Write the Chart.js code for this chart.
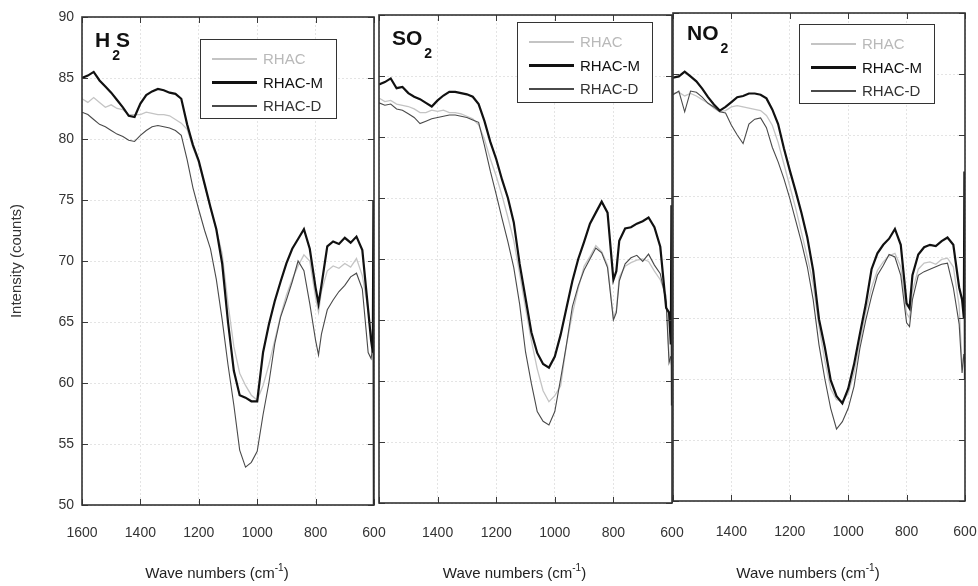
<!DOCTYPE html>
<html>
<head>
<meta charset="utf-8">
<script src="https://cdn.jsdelivr.net/npm/chart.js@4.4.0/dist/chart.umd.min.js"></script>
<style>
  body { margin: 0; background: #fff; width: 978px; height: 586px; overflow: hidden;
         font-family: "Liberation Sans", Arial, sans-serif; position: relative; }
  canvas { position: absolute; top: 0; }
  .gas { position: absolute; font-weight: bold; font-size: 21px; line-height: 1; color: #111; white-space: nowrap; }
  .gas .sub { font-size: 14px; position: relative; top: 13px; margin: 0 0 0 2px; }
  .legend { position: absolute; border: 1.5px solid #333; background: #fff; box-sizing: border-box; }
  .legend .row { position: absolute; left: 0; right: 0; height: 0; }
  .legend .swatch { position: absolute; left: 11px; width: 45px; }
  .legend .txt { position: absolute; left: 62px; top: -9px; font-size: 15px; line-height: 18px; white-space: nowrap; }
</style>
</head>
<body>
<canvas id="c1" width="400" height="586" style="left:0px"></canvas>
<canvas id="c2" width="340" height="586" style="left:360px"></canvas>
<canvas id="c3" width="323" height="586" style="left:655px"></canvas>

<script>
// wavenumbers (cm-1), shared by every trace
const WAVE = [1600,1580,1560,1540,1520,1500,1480,1460,1440,1420,
              1400,1380,1360,1340,1320,1300,1280,1260,1240,1220,
              1200,1180,1160,1140,1120,1100,1080,1060,1040,1020,
              1000,980,960,940,920,900,880,860,840,820,
              800,790,780,760,740,720,700,680,660,640,620,610,604,602,600];

const X_TICKS = [1600, 1400, 1200, 1000, 800, 600];
const Y_TICKS = [50, 55, 60, 65, 70, 75, 80, 85, 90];

const SERIES = ['RHAC', 'RHAC-M', 'RHAC-D'];

// H2S
const H2S_RHAC = [83.3,83.0,83.4,83.0,82.6,82.8,82.5,82.4,82.0,82.0,
                  82.0,82.2,82.1,82.0,82.0,81.9,81.6,81.3,80.8,79.3,
                  78.0,76.2,74.3,72.6,70.6,66.5,63.0,60.8,59.8,59.0,
                  58.6,59.8,61.5,63.5,65.5,67.2,68.5,69.6,70.5,70.0,
                  67.0,65.8,67.5,69.2,69.6,69.4,69.8,69.5,70.2,68.8,66.0,64.0,63.5,63.0,63.0];
const H2S_RHAC_M = [85.0,85.2,85.5,84.8,84.3,83.8,83.2,82.6,81.9,81.8,
                    82.9,83.6,83.9,84.1,84.0,83.8,83.7,83.3,81.2,79.5,
                    78.2,76.3,74.4,72.6,69.8,65.0,61.0,59.0,58.8,58.5,
                    58.5,62.5,64.8,66.7,68.3,69.8,71.0,71.8,72.6,71.0,
                    67.8,66.5,68.0,71.2,71.6,71.4,71.9,71.5,72.0,70.9,66.0,63.5,62.5,75.0,45.0];
const H2S_RHAC_D = [82.2,82.0,81.6,81.2,81.0,80.7,80.4,80.2,79.9,79.8,
                    80.3,80.7,81.0,81.1,81.0,80.9,80.7,80.3,78.3,76.0,
                    74.2,72.5,71.0,68.5,65.2,61.5,58.2,54.5,53.1,53.5,
                    54.4,57.4,60.0,63.2,65.4,66.8,68.3,70.0,69.2,66.5,
                    63.5,62.3,64.0,66.0,66.8,67.5,68.0,68.7,69.0,67.7,62.5,62.0,63.0,63.0,63.0];

// SO2
const SO2_RHAC = [83.2,82.9,83.0,82.7,82.6,82.5,82.3,82.0,82.0,82.2,
                  82.1,82.2,82.0,82.0,81.9,81.7,81.5,81.0,79.8,78.2,
                  76.8,75.2,73.4,71.5,68.8,66.0,63.3,61.0,59.2,58.3,
                  58.8,59.6,63.0,65.5,67.6,69.4,70.2,71.1,70.6,69.5,
                  65.2,65.8,68.5,69.4,69.7,69.9,70.0,69.8,69.0,68.3,67.0,62.0,61.5,62.0,62.0];
const SO2_RHAC_M = [84.3,84.5,84.8,84.0,84.1,83.6,83.3,83.1,82.8,82.5,
                    83.0,83.4,83.7,83.7,83.6,83.5,83.3,82.7,81.3,79.6,
                    78.2,76.5,75.0,73.0,69.6,66.8,64.0,62.3,61.4,61.1,
                    62.0,63.8,66.0,68.2,70.0,71.4,72.9,73.8,74.7,73.8,
                    68.3,69.0,71.5,72.5,72.6,72.9,73.1,73.4,72.6,71.0,66.0,65.6,63.0,74.4,58.0];
const SO2_RHAC_D = [82.8,82.6,82.7,82.3,82.2,81.9,81.6,81.1,81.3,81.5,
                    81.6,81.7,81.8,81.8,81.7,81.6,81.4,81.2,79.3,77.2,
                    75.3,73.3,71.4,69.3,66.3,62.4,59.8,57.5,56.7,56.4,
                    57.5,60.2,63.0,66.1,67.8,69.1,70.0,70.9,70.5,69.3,
                    65.0,65.6,68.2,69.6,70.1,70.3,69.8,70.4,69.5,68.8,66.5,61.5,62.0,62.0,62.0];

// NO2
const NO2_RHAC = [83.4,83.5,83.2,83.4,83.2,82.9,82.6,82.2,81.9,82.0,
                  82.3,82.4,82.3,82.2,82.1,82.0,81.6,80.8,79.4,77.6,
                  75.8,74.0,72.0,70.0,67.8,64.3,61.5,59.2,58.3,58.2,
                  58.8,60.5,63.0,65.5,67.5,68.9,69.6,70.1,70.3,69.2,
                  65.4,65.0,67.2,69.0,69.5,69.6,69.4,69.8,69.9,69.2,66.0,61.0,62.0,62.0,62.0];
const NO2_RHAC_M = [84.7,84.8,85.2,84.8,84.4,83.8,83.1,82.5,82.0,82.3,
                    82.7,83.1,83.2,83.4,83.4,83.3,83.0,82.1,80.9,78.9,
                    77.1,75.4,73.6,71.6,68.9,64.9,62.6,59.9,58.6,58.0,
                    59.2,61.2,63.7,66.1,69.0,70.3,71.0,71.5,72.3,71.0,
                    66.2,65.8,68.5,70.2,70.8,71.0,70.9,71.3,71.6,71.0,67.5,66.5,65.0,77.0,60.0];
const NO2_RHAC_D = [83.3,83.6,81.9,83.6,83.5,83.1,82.6,82.3,81.9,81.8,
                    80.8,80.0,79.3,80.9,81.3,81.4,80.6,79.0,77.8,76.4,
                    74.8,73.0,71.2,69.2,66.5,62.8,60.0,57.6,55.9,56.5,
                    57.6,59.4,62.5,64.8,66.8,68.5,69.3,70.2,70.0,68.5,
                    64.6,64.3,66.5,68.5,68.8,69.0,69.2,69.4,69.5,67.5,64.5,60.5,62.0,62.0,62.0];

const DATA = {
  H2S: [H2S_RHAC, H2S_RHAC_M, H2S_RHAC_D],
  SO2: [SO2_RHAC, SO2_RHAC_M, SO2_RHAC_D],
  NO2: [NO2_RHAC, NO2_RHAC_M, NO2_RHAC_D],
};

// line look per series (RHAC light, RHAC-M heavy black, RHAC-D thin dark)
const STYLE = [
  { color: '#c4c4c4', width: 1.3, text: '#b9b9b9' },
  { color: '#111111', width: 2.2, text: '#111111' },
  { color: '#4a4a4a', width: 1.1, text: '#333333' },
];

const FONT = '"Liberation Sans", Arial, sans-serif';
Chart.defaults.font.family = FONT;
Chart.defaults.color = '#333';

// MATLAB-ish box with inward ticks
const framePlugin = {
  id: 'frame',
  afterDatasetsDraw(chart) {
    const { ctx, chartArea: a, scales: { x, y } } = chart;
    ctx.save();
    ctx.strokeStyle = '#3a3a3a';
    ctx.lineWidth = 1;
    ctx.beginPath();
    x.ticks.forEach(t => {
      const px = Math.round(x.getPixelForValue(t.value)) + 0.5;
      ctx.moveTo(px, a.bottom); ctx.lineTo(px, a.bottom - 6);
      ctx.moveTo(px, a.top); ctx.lineTo(px, a.top + 6);
    });
    y.ticks.forEach(t => {
      const py = Math.round(y.getPixelForValue(t.value)) + 0.5;
      ctx.moveTo(a.left, py); ctx.lineTo(a.left + 6, py);
      ctx.moveTo(a.right, py); ctx.lineTo(a.right - 6, py);
    });
    ctx.stroke();
    ctx.lineWidth = 1.6;
    ctx.strokeStyle = '#333';
    ctx.strokeRect(a.left, a.top, a.right - a.left, a.bottom - a.top);
    ctx.restore();
  }
};

// x title with a real superscript: "Wave numbers (cm^-1)"
const xTitlePlugin = {
  id: 'xtitle',
  afterDraw(chart) {
    const { ctx, chartArea: a } = chart;
    const parts = [['Wave numbers (cm', 15, 0], ['-1', 10, -7], [')', 15, 0]];
    ctx.save();
    ctx.fillStyle = '#222';
    ctx.textBaseline = 'alphabetic';
    let total = 0;
    parts.forEach(p => { ctx.font = p[1] + 'px ' + FONT; total += ctx.measureText(p[0]).width; });
    let x = (a.left + a.right) / 2 - 11 - total / 2;
    parts.forEach(p => {
      ctx.font = p[1] + 'px ' + FONT;
      ctx.fillText(p[0], x, 578 + p[2]);
      x += ctx.measureText(p[0]).width;
    });
    ctx.restore();
  }
};

function makePanel(id, gas, box) {
  const first = gas === 'H2S';
  const datasets = DATA[gas].map((vals, i) => ({
    label: SERIES[i],
    data: WAVE.map((w, k) => ({ x: w, y: vals[k] })),
    borderColor: STYLE[i].color,
    borderWidth: STYLE[i].width,
    pointRadius: 0,
    tension: 0,
    order: i === 1 ? 0 : (i === 0 ? 2 : 1),
  }));

  return new Chart(document.getElementById(id), {
    type: 'line',
    data: { datasets },
    options: {
      responsive: false,
      animation: false,
      events: [],
      devicePixelRatio: 1,
      layout: { padding: { left: 0, right: box.padRight, top: box.top, bottom: 0 } },
      plugins: { legend: { display: false }, tooltip: { enabled: false } },
      scales: {
        x: {
          type: 'linear', reverse: true, min: 600, max: 1600,
          afterBuildTicks: s => { s.ticks = X_TICKS.map(v => ({ value: v })); },
          afterFit: s => { s.height = box.xh; s.paddingLeft = 0; s.paddingRight = 0; },
          ticks: {
            autoSkip: false, maxRotation: 0, padding: box.tickPad,
            font: { size: 14 }, color: '#333',
            callback: v => (!first && v === 1600) ? '' : String(v),
          },
          grid: { color: '#e4e4e4', drawTicks: false, lineWidth: 1 },
          border: { display: false, dash: [2, 2] },
          title: { display: false },
        },
        y: {
          min: 50, max: 90,
          afterBuildTicks: s => { s.ticks = Y_TICKS.map(v => ({ value: v })); },
          afterFit: s => { s.width = box.yw; },
          ticks: { display: first, padding: 8, font: { size: 14 }, color: '#333' },
          grid: { color: '#e4e4e4', drawTicks: false, lineWidth: 1 },
          border: { display: false, dash: [2, 2] },
          title: { display: first, text: 'Intensity (counts)', font: { size: 15 }, color: '#333',
                   padding: { top: 8, bottom: 0 } },
        },
      },
    },
    plugins: [framePlugin, xTitlePlugin],
  });
}

// plot boxes: left edge comes from yw, right from canvas width - padRight
const BOXES = [
  { id: 'c1', gas: 'H2S', yw: 82, padRight: 26, top: 17, xh: 81, tickPad: 20 },
  { id: 'c2', gas: 'SO2', yw: 19, padRight: 28, top: 15, xh: 83, tickPad: 22 },
  { id: 'c3', gas: 'NO2', yw: 18, padRight: 13, top: 13, xh: 85, tickPad: 23 },
];
BOXES.forEach(b => makePanel(b.id, b.gas, b));

// gas name labels inside each panel
const LABELS = [
  { gas: 'H', sub: '2', tail: 'S', left: 95, top: 29 },
  { gas: 'SO', sub: '2', tail: '', left: 392, top: 27 },
  { gas: 'NO', sub: '2', tail: '', left: 687, top: 22 },
];
LABELS.forEach(l => {
  const d = document.createElement('div');
  d.className = 'gas';
  d.style.left = l.left + 'px';
  d.style.top = l.top + 'px';
  d.innerHTML = l.gas + '<span class="sub">' + l.sub + '</span>' +
    (l.tail ? '<span style="margin-left:-4px">' + l.tail + '</span>' : '');
  document.body.appendChild(d);
});

// legends
const LEGENDS = [
  { left: 200, top: 39, w: 137, h: 80 },
  { left: 517, top: 22, w: 136, h: 81 },
  { left: 799, top: 24, w: 136, h: 80 },
];
LEGENDS.forEach(L => {
  const box = document.createElement('div');
  box.className = 'legend';
  Object.assign(box.style, { left: L.left + 'px', top: L.top + 'px', width: L.w + 'px', height: L.h + 'px' });
  SERIES.forEach((name, i) => {
    const row = document.createElement('div');
    row.className = 'row';
    row.style.top = (19 + i * 23.5) + 'px';
    const sw = document.createElement('div');
    sw.className = 'swatch';
    sw.style.height = STYLE[i].width + 'px';
    sw.style.top = (-STYLE[i].width / 2) + 'px';
    sw.style.background = STYLE[i].color;
    const tx = document.createElement('div');
    tx.className = 'txt';
    tx.style.color = STYLE[i].text;
    tx.textContent = name;
    row.appendChild(sw); row.appendChild(tx);
    box.appendChild(row);
  });
  document.body.appendChild(box);
});
</script>
</body>
</html>
